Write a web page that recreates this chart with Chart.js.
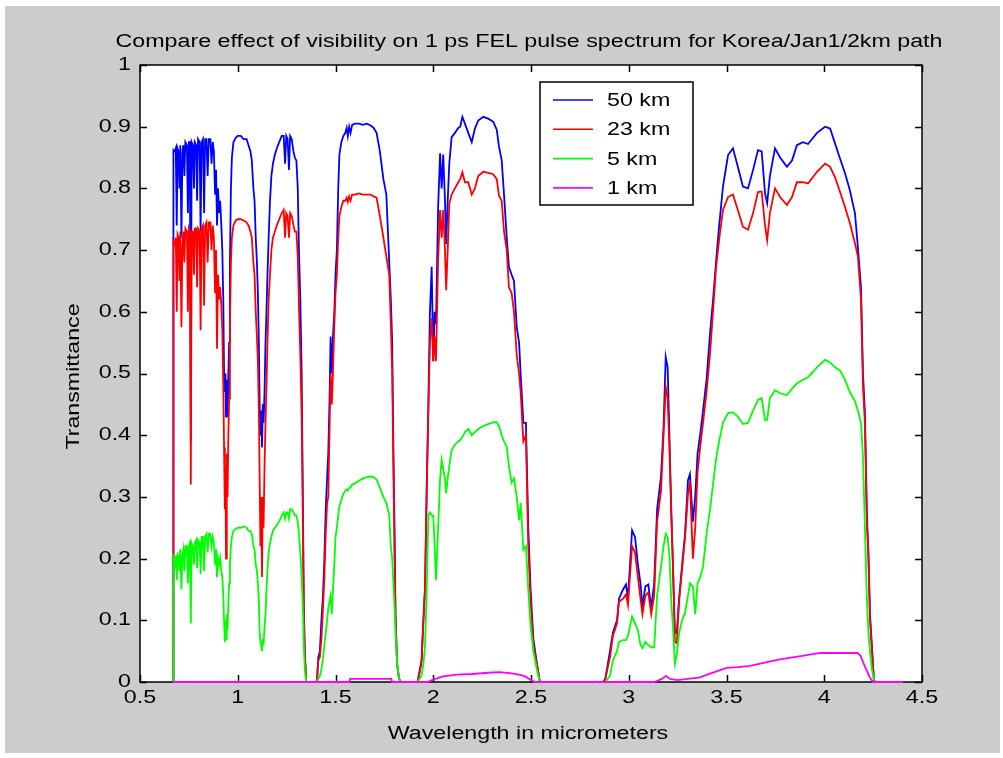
<!DOCTYPE html>
<html>
<head>
<meta charset="utf-8">
<script src="https://cdn.jsdelivr.net/npm/chart.js@4.4.1/dist/chart.umd.min.js"></script>
<style>
  html, body { margin: 0; padding: 0; background: #ffffff; }
  #wrap { position: absolute; left: 0; top: 0; width: 1003px; height: 758px; }
</style>
</head>
<body>
<div id="wrap"><canvas id="myChart" width="1003" height="758"></canvas></div>
<script>
// wavelength grid (micrometers) shared by the 50 / 23 / 5 km curves
var wavelength = [
  // band 0.67 - 1.35
  0.669, 0.671, 0.678, 0.683, 0.688, 0.692, 0.697, 0.702, 0.706, 0.712,
  0.717, 0.722, 0.727, 0.732, 0.740, 0.745, 0.750, 0.755, 0.760, 0.764,
  0.770, 0.776, 0.780, 0.787, 0.792, 0.797, 0.805, 0.810, 0.815, 0.822,
  0.828, 0.833, 0.840, 0.846, 0.852, 0.860, 0.866, 0.872, 0.878, 0.884,
  0.889, 0.894, 0.899, 0.905, 0.910, 0.916, 0.921, 0.926, 0.930, 0.934,
  0.937, 0.940, 0.944, 0.948, 0.952, 0.956, 0.960, 0.965, 0.970, 0.978,
  0.990, 1.000, 1.015, 1.030, 1.045, 1.055, 1.065, 1.072, 1.080, 1.086,
  1.092, 1.098, 1.103, 1.108, 1.112, 1.116, 1.120, 1.124, 1.128, 1.132,
  1.137, 1.142, 1.147, 1.152, 1.158, 1.165, 1.172, 1.180, 1.190, 1.200,
  1.212, 1.225, 1.235, 1.242, 1.248, 1.255, 1.262, 1.268, 1.276, 1.285,
  1.292, 1.300, 1.307, 1.313, 1.320, 1.327, 1.333, 1.338, 1.343, 1.350,
  // band 1.40 - 1.83
  1.405, 1.412, 1.420, 1.428, 1.436, 1.443, 1.450, 1.457, 1.463, 1.469,
  1.475, 1.481, 1.487, 1.494, 1.500, 1.507, 1.514, 1.520, 1.530, 1.540,
  1.550, 1.557, 1.563, 1.570, 1.577, 1.585, 1.600, 1.620, 1.640, 1.660,
  1.680, 1.695, 1.710, 1.727, 1.745, 1.760, 1.775, 1.783, 1.790, 1.796,
  1.802, 1.807, 1.815, 1.825, 1.835,
  // band 1.92 - 2.55
  1.920, 1.940, 1.950, 1.958, 1.966, 1.975, 1.983, 1.992, 2.000, 2.007,
  2.014, 2.025, 2.035, 2.043, 2.051, 2.060, 2.066, 2.074, 2.082, 2.094,
  2.111, 2.128, 2.138, 2.149, 2.162, 2.179, 2.197, 2.213, 2.230, 2.256,
  2.281, 2.307, 2.325, 2.336, 2.350, 2.362, 2.376, 2.387, 2.401, 2.413,
  2.427, 2.439, 2.447, 2.461, 2.474, 2.486, 2.498, 2.512, 2.530, 2.545,
  // band 2.87 - 4.4
  2.870, 2.880, 2.904, 2.919, 2.940, 2.950, 2.971, 2.986, 2.996, 3.017,
  3.032, 3.047, 3.060, 3.070, 3.085, 3.100, 3.115, 3.130, 3.145, 3.165,
  3.178, 3.189, 3.199, 3.209, 3.218, 3.226, 3.236, 3.246, 3.257, 3.272,
  3.288, 3.303, 3.313, 3.328, 3.340, 3.352, 3.365, 3.380, 3.398, 3.416,
  3.431, 3.446, 3.462, 3.482, 3.508, 3.533, 3.558, 3.584, 3.610, 3.636,
  3.661, 3.680, 3.697, 3.708, 3.722, 3.748, 3.774, 3.809, 3.835, 3.860,
  3.891, 3.917, 3.963, 4.004, 4.030, 4.055, 4.080, 4.106, 4.131, 4.157,
  4.172, 4.188, 4.198, 4.208, 4.218, 4.226, 4.234, 4.244, 4.254, 4.265,
  4.400
];

// 50 km visibility
var vis50km = [
  0, 0.862, 0.86, 0.865, 0.74, 0.865, 0.86, 0.80, 0.87, 0.72,
  0.86, 0.87, 0.82, 0.875, 0.87, 0.76, 0.875, 0.875, 0.39, 0.875,
  0.87, 0.80, 0.875, 0.87, 0.78, 0.88, 0.875, 0.73, 0.875, 0.88,
  0.76, 0.88, 0.88, 0.82, 0.88, 0.88, 0.84, 0.875, 0.86, 0.79,
  0.83, 0.74, 0.80, 0.76, 0.78, 0.74, 0.70, 0.62, 0.50, 0.47,
  0.50, 0.43, 0.49, 0.43, 0.50, 0.55, 0.68, 0.80, 0.85, 0.875,
  0.882, 0.885, 0.885, 0.88, 0.88, 0.87, 0.86, 0.845, 0.80, 0.78,
  0.72, 0.68, 0.63, 0.55, 0.45, 0.40, 0.44, 0.38, 0.45, 0.42,
  0.47, 0.55, 0.60, 0.66, 0.72, 0.78, 0.82, 0.84, 0.855, 0.865,
  0.875, 0.885, 0.885, 0.84, 0.885, 0.88, 0.83, 0.885, 0.88, 0.86,
  0.85, 0.845, 0.80, 0.70, 0.62, 0.50, 0.30, 0.12, 0.05, 0,

  0, 0.04, 0.05, 0.10, 0.14, 0.20, 0.28, 0.33, 0.37, 0.45,
  0.56, 0.50, 0.56, 0.60, 0.66, 0.70, 0.80, 0.855, 0.875, 0.885,
  0.89, 0.898, 0.885, 0.90, 0.89, 0.903, 0.905, 0.905, 0.903, 0.905,
  0.902, 0.898, 0.89, 0.86, 0.815, 0.79, 0.68, 0.62, 0.55, 0.38,
  0.25, 0.11, 0.03, 0.005, 0,

  0, 0.035, 0.105, 0.155, 0.306, 0.45, 0.60, 0.673, 0.52, 0.60,
  0.58, 0.77, 0.857, 0.80, 0.855, 0.78, 0.71, 0.78, 0.84, 0.883,
  0.89, 0.898, 0.90, 0.916, 0.905, 0.89, 0.875, 0.897, 0.91, 0.916,
  0.913, 0.908, 0.895, 0.868, 0.846, 0.79, 0.72, 0.673, 0.66, 0.65,
  0.575, 0.55, 0.50, 0.42, 0.42, 0.25, 0.15, 0.07, 0.03, 0,

  0, 0.005, 0.05, 0.08, 0.10, 0.135, 0.15, 0.158, 0.135, 0.246,
  0.235, 0.19, 0.16, 0.122, 0.155, 0.158, 0.12, 0.16, 0.28, 0.333,
  0.413, 0.527, 0.51, 0.387, 0.27, 0.19, 0.08, 0.08, 0.133, 0.187,
  0.24, 0.327, 0.337, 0.26, 0.30, 0.37, 0.40, 0.44, 0.49, 0.566,
  0.619, 0.679, 0.738, 0.803, 0.854, 0.865, 0.835, 0.803, 0.80, 0.83,
  0.862, 0.86, 0.792, 0.776, 0.82, 0.865, 0.85, 0.835, 0.845, 0.87,
  0.875, 0.872, 0.89, 0.90, 0.897, 0.873, 0.849, 0.825, 0.797, 0.76,
  0.705, 0.64, 0.50, 0.436, 0.27, 0.21, 0.11, 0.057, 0.003, 0,
  0
];

// 23 km visibility
var vis23km = [
  0, 0.715, 0.71, 0.72, 0.60, 0.725, 0.72, 0.65, 0.73, 0.575,
  0.71, 0.73, 0.68, 0.735, 0.73, 0.60, 0.735, 0.73, 0.32, 0.73,
  0.73, 0.66, 0.735, 0.735, 0.64, 0.735, 0.73, 0.57, 0.735, 0.74,
  0.61, 0.74, 0.745, 0.68, 0.745, 0.745, 0.70, 0.74, 0.72, 0.63,
  0.70, 0.54, 0.66, 0.62, 0.64, 0.61, 0.57, 0.48, 0.38, 0.28,
  0.35, 0.20, 0.37, 0.30, 0.40, 0.46, 0.58, 0.68, 0.72, 0.74,
  0.748, 0.75, 0.75, 0.748, 0.745, 0.74, 0.73, 0.72, 0.68, 0.66,
  0.60, 0.56, 0.52, 0.44, 0.33, 0.22, 0.30, 0.17, 0.30, 0.25,
  0.35, 0.42, 0.48, 0.55, 0.62, 0.66, 0.70, 0.72, 0.73, 0.74,
  0.75, 0.76, 0.765, 0.72, 0.76, 0.755, 0.72, 0.76, 0.755, 0.74,
  0.73, 0.73, 0.69, 0.61, 0.53, 0.43, 0.26, 0.11, 0.045, 0,

  0, 0.035, 0.04, 0.07, 0.12, 0.17, 0.24, 0.29, 0.30, 0.40,
  0.50, 0.45, 0.50, 0.58, 0.63, 0.66, 0.72, 0.755, 0.77, 0.78,
  0.78, 0.785, 0.778, 0.787, 0.78, 0.79, 0.79, 0.792, 0.79, 0.79,
  0.79, 0.787, 0.785, 0.755, 0.72, 0.69, 0.66, 0.58, 0.50, 0.35,
  0.20, 0.10, 0.03, 0.005, 0,

  0, 0.03, 0.10, 0.15, 0.30, 0.44, 0.55, 0.59, 0.52, 0.56,
  0.52, 0.685, 0.765, 0.72, 0.765, 0.70, 0.635, 0.70, 0.775, 0.79,
  0.80, 0.81, 0.815, 0.826, 0.81, 0.81, 0.79, 0.80, 0.82, 0.827,
  0.825, 0.823, 0.815, 0.788, 0.78, 0.73, 0.70, 0.64, 0.63, 0.60,
  0.53, 0.50, 0.47, 0.39, 0.40, 0.22, 0.13, 0.06, 0.03, 0,

  0, 0.005, 0.04, 0.075, 0.095, 0.13, 0.135, 0.142, 0.125, 0.22,
  0.21, 0.17, 0.135, 0.11, 0.14, 0.145, 0.11, 0.14, 0.26, 0.31,
  0.40, 0.478, 0.46, 0.37, 0.27, 0.19, 0.065, 0.063, 0.13, 0.18,
  0.235, 0.305, 0.325, 0.20, 0.25, 0.34, 0.38, 0.42, 0.47, 0.533,
  0.60, 0.67, 0.716, 0.765, 0.786, 0.79, 0.765, 0.738, 0.733, 0.76,
  0.794, 0.795, 0.74, 0.716, 0.76, 0.80, 0.786, 0.773, 0.786, 0.81,
  0.81, 0.808, 0.827, 0.84, 0.835, 0.818, 0.795, 0.77, 0.744, 0.711,
  0.69, 0.62, 0.48, 0.42, 0.26, 0.20, 0.10, 0.05, 0.003, 0,
  0
];

// 5 km visibility
var vis5km = [
  0, 0.20, 0.19, 0.205, 0.165, 0.21, 0.20, 0.18, 0.215, 0.15,
  0.205, 0.215, 0.18, 0.22, 0.22, 0.16, 0.22, 0.225, 0.095, 0.225,
  0.22, 0.19, 0.225, 0.23, 0.185, 0.23, 0.225, 0.175, 0.235, 0.235,
  0.18, 0.235, 0.24, 0.21, 0.24, 0.24, 0.22, 0.235, 0.225, 0.19,
  0.215, 0.17, 0.20, 0.19, 0.20, 0.18, 0.17, 0.14, 0.10, 0.065,
  0.10, 0.07, 0.11, 0.085, 0.13, 0.16, 0.19, 0.22, 0.235, 0.245,
  0.248, 0.25, 0.25, 0.252, 0.25, 0.245, 0.245, 0.24, 0.22, 0.215,
  0.19, 0.18, 0.16, 0.13, 0.08, 0.065, 0.06, 0.05, 0.07, 0.06,
  0.09, 0.11, 0.15, 0.18, 0.21, 0.225, 0.235, 0.245, 0.25, 0.255,
  0.26, 0.27, 0.275, 0.265, 0.275, 0.275, 0.265, 0.28, 0.28, 0.275,
  0.27, 0.27, 0.26, 0.24, 0.21, 0.17, 0.12, 0.06, 0.02, 0,

  0, 0.005, 0.01, 0.02, 0.04, 0.06, 0.08, 0.10, 0.12, 0.13,
  0.14, 0.11, 0.15, 0.19, 0.235, 0.25, 0.27, 0.285, 0.295, 0.305,
  0.31, 0.312, 0.31, 0.315, 0.315, 0.32, 0.322, 0.326, 0.33, 0.332,
  0.333, 0.332, 0.328, 0.315, 0.30, 0.29, 0.27, 0.22, 0.20, 0.16,
  0.12, 0.08, 0.03, 0.005, 0,

  0, 0.01, 0.03, 0.06, 0.143, 0.27, 0.275, 0.27, 0.27, 0.22,
  0.165, 0.25, 0.33, 0.36, 0.345, 0.33, 0.306, 0.33, 0.35, 0.376,
  0.385, 0.39, 0.392, 0.397, 0.405, 0.41, 0.40, 0.405, 0.41, 0.415,
  0.418, 0.421, 0.421, 0.415, 0.40, 0.39, 0.381, 0.35, 0.323, 0.33,
  0.30, 0.262, 0.29, 0.214, 0.22, 0.15, 0.09, 0.05, 0.02, 0,

  0, 0, 0.01, 0.035, 0.05, 0.065, 0.068, 0.068, 0.075, 0.106,
  0.095, 0.084, 0.06, 0.055, 0.065, 0.06, 0.056, 0.056, 0.14, 0.187,
  0.22, 0.24, 0.235, 0.20, 0.128, 0.09, 0.03, 0.045, 0.078, 0.10,
  0.112, 0.14, 0.16, 0.155, 0.11, 0.16, 0.17, 0.187, 0.24, 0.28,
  0.32, 0.36, 0.39, 0.42, 0.436, 0.437, 0.43, 0.418, 0.42, 0.44,
  0.457, 0.46, 0.425, 0.425, 0.46, 0.473, 0.468, 0.465, 0.475, 0.484,
  0.49, 0.494, 0.51, 0.522, 0.518, 0.51, 0.505, 0.49, 0.47, 0.455,
  0.44, 0.42, 0.365, 0.25, 0.133, 0.08, 0.05, 0.02, 0.005, 0,
  0
];

// 1 km visibility has its own coarser grid
var wavelength1km = [
  0.669, 1.57, 1.575, 1.785, 1.79, 1.97, 2.0, 2.05, 2.12, 2.2,
  2.28, 2.34, 2.40, 2.44, 2.47, 2.495, 2.52, 3.13, 3.17, 3.19,
  3.21, 3.25, 3.30, 3.36, 3.42, 3.50, 3.56, 3.62, 3.69, 3.76,
  3.82, 3.88, 3.94, 3.98, 4.05, 4.10, 4.17, 4.185, 4.20, 4.215,
  4.234, 4.25, 4.40
];
var vis1km = [
  0, 0, 0.005, 0.005, 0, 0, 0.004, 0.009, 0.012, 0.013,
  0.015, 0.016, 0.014, 0.012, 0.009, 0.004, 0, 0, 0.005, 0.01,
  0.005, 0.003, 0.005, 0.007, 0.014, 0.023, 0.024, 0.026, 0.031, 0.036,
  0.039, 0.042, 0.045, 0.047, 0.047, 0.047, 0.047, 0.043, 0.031, 0.02,
  0.007, 0, 0
];

var seriesNames = ['50 km', '23 km', '5 km', '1 km'];
var seriesColors = ['#0000ff', '#ff0000', '#00ff00', '#ff00ff'];
var xTicks = [0.5, 1, 1.5, 2, 2.5, 3, 3.5, 4, 4.5];
var yTicks = [0, 0.1, 0.2, 0.3, 0.4, 0.5, 0.6, 0.7, 0.8, 0.9, 1];

var titleText = 'Compare effect of visibility on 1 ps FEL pulse spectrum for Korea/Jan1/2km path';
var xLabel = 'Wavelength in micrometers';
var yLabel = 'Transmittance';

function pairs(xs, ys) {
  var out = [];
  for (var i = 0; i < xs.length; i++) {
    out.push({x: xs[i], y: ys[i]});
  }
  return out;
}

var FONT = '18px "Liberation Sans", Arial, sans-serif';
var STRETCH = 1.29;

// draw text a bit wider, like the old MATLAB screen font
function wideText(ctx, str, x, y, align) {
  ctx.save();
  ctx.translate(x, y);
  ctx.scale(STRETCH, 1);
  ctx.textAlign = align;
  ctx.fillText(str, 0, 0);
  ctx.restore();
}

var figurePlugin = {
  id: 'matlabFigure',
  beforeDraw: function(chart) {
    var ctx = chart.ctx;
    var a = chart.chartArea;
    ctx.save();
    ctx.fillStyle = '#ffffff';
    ctx.fillRect(0, 0, chart.width, chart.height);
    ctx.fillStyle = '#cccccc';
    ctx.fillRect(5, 6, 995, 747);
    ctx.fillStyle = '#ffffff';
    ctx.fillRect(a.left, a.top, a.right - a.left, a.bottom - a.top);
    ctx.restore();
  },
  beforeDatasetsDraw: function(chart) {
    var ctx = chart.ctx;
    var a = chart.chartArea;
    var xs = chart.scales.x;
    var ys = chart.scales.y;
    var tick = 7;
    ctx.save();
    ctx.strokeStyle = '#000000';
    ctx.lineWidth = 1.5;
    ctx.strokeRect(a.left, a.top, a.right - a.left, a.bottom - a.top);
    ctx.beginPath();
    xTicks.forEach(function(v) {
      var px = Math.round(xs.getPixelForValue(v)) + 0.5;
      ctx.moveTo(px, a.bottom); ctx.lineTo(px, a.bottom - tick);
      ctx.moveTo(px, a.top); ctx.lineTo(px, a.top + tick);
    });
    yTicks.forEach(function(v) {
      var py = Math.round(ys.getPixelForValue(v)) + 0.5;
      ctx.moveTo(a.left, py); ctx.lineTo(a.left + tick, py);
      ctx.moveTo(a.right, py); ctx.lineTo(a.right - tick, py);
    });
    ctx.stroke();
    ctx.restore();
  },
  afterDatasetsDraw: function(chart) {
    var ctx = chart.ctx;
    var a = chart.chartArea;
    var xs = chart.scales.x;
    var ys = chart.scales.y;
    ctx.save();
    ctx.fillStyle = '#000000';
    ctx.font = FONT;

    // tick labels
    ctx.textBaseline = 'alphabetic';
    xTicks.forEach(function(v) {
      wideText(ctx, String(v), xs.getPixelForValue(v), a.bottom + 21, 'center');
    });
    ctx.textBaseline = 'middle';
    yTicks.forEach(function(v) {
      wideText(ctx, String(v), a.left - 9, ys.getPixelForValue(v), 'right');
    });

    // title and axis labels
    ctx.textBaseline = 'alphabetic';
    wideText(ctx, titleText, (a.left + a.right) / 2 - 2, 47, 'center');
    wideText(ctx, xLabel, (a.left + a.right) / 2 - 3, 739, 'center');
    ctx.save();
    ctx.translate(79, (a.top + a.bottom) / 2 + 3);
    ctx.rotate(-Math.PI / 2);
    wideText(ctx, yLabel, 0, 0, 'center');
    ctx.restore();

    // legend box
    var lx = 540, ly = 82, lw = 153, lh = 123;
    ctx.fillStyle = '#ffffff';
    ctx.fillRect(lx, ly, lw, lh);
    ctx.strokeStyle = '#000000';
    ctx.lineWidth = 1.5;
    ctx.strokeRect(lx, ly, lw, lh);
    for (var i = 0; i < seriesNames.length; i++) {
      var rowY = 100 + i * 29.3;
      ctx.strokeStyle = seriesColors[i];
      ctx.lineWidth = 1.6;
      ctx.beginPath();
      ctx.moveTo(553, rowY);
      ctx.lineTo(593, rowY);
      ctx.stroke();
      ctx.fillStyle = '#000000';
      ctx.textBaseline = 'middle';
      wideText(ctx, seriesNames[i], 607, rowY + 1, 'left');
    }
    ctx.restore();
  }
};

var datasets = [
  {label: seriesNames[0], data: pairs(wavelength, vis50km), borderColor: seriesColors[0], order: 4},
  {label: seriesNames[1], data: pairs(wavelength, vis23km), borderColor: seriesColors[1], order: 3},
  {label: seriesNames[2], data: pairs(wavelength, vis5km), borderColor: seriesColors[2], order: 2},
  {label: seriesNames[3], data: pairs(wavelength1km, vis1km), borderColor: seriesColors[3], order: 1}
];
// lines sitting on zero must not be clipped away by the plot box
datasets.forEach(function(d) {
  d.showLine = true;
  d.borderWidth = 1.8;
  d.pointRadius = 0;
  d.tension = 0;
  d.fill = false;
  d.clip = 5;
});

var ctx = document.getElementById('myChart');
var chart = new Chart(ctx, {
  type: 'scatter',
  data: {datasets: datasets},
  options: {
    responsive: false,
    animation: false,
    devicePixelRatio: 1,
    layout: {padding: {left: 140, right: 81, top: 65, bottom: 76}},
    plugins: {
      legend: {display: false},
      tooltip: {enabled: false},
      title: {display: false}
    },
    scales: {
      x: {type: 'linear', display: false, min: 0.5, max: 4.5},
      y: {type: 'linear', display: false, min: 0, max: 1}
    }
  },
  plugins: [figurePlugin]
});
</script>
</body>
</html>
